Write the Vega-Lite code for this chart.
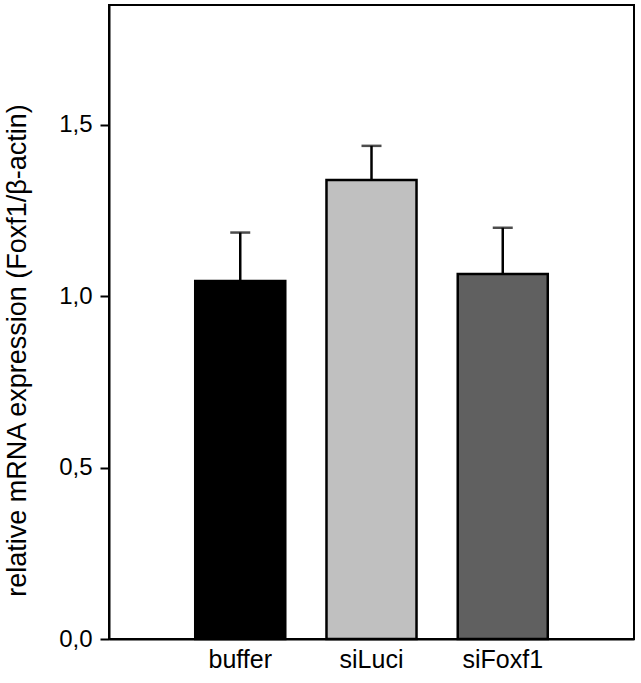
{
  "$schema": "https://vega.github.io/schema/vega-lite/v6.json",
  "width": 525,
  "height": 634,
  "autosize": {"type": "none"},
  "padding": {"left": 109, "top": 5, "right": 7, "bottom": 44},
  "background": "white",
  "config": {
    "view": {"stroke": "black", "strokeWidth": 2},
    "font": "Liberation Sans"
  },
  "data": {
    "values": [
      {"group": "buffer", "mean": 1.045, "upper": 1.186, "fill": "#000000"},
      {"group": "siLuci", "mean": 1.339, "upper": 1.439, "fill": "#c0c0c0"},
      {"group": "siFoxf1", "mean": 1.065, "upper": 1.2, "fill": "#606060"}
    ]
  },
  "encoding": {
    "x": {
      "field": "group",
      "type": "nominal",
      "sort": ["buffer", "siLuci", "siFoxf1"],
      "scale": {"paddingInner": 0.314, "paddingOuter": 0.657},
      "axis": {
        "title": null,
        "labelAngle": 0,
        "ticks": false,
        "labelFontSize": 25,
        "labelColor": "black",
        "labelPadding": 8,
        "domainColor": "black",
        "domainWidth": 2,
        "labelFont": "Liberation Sans"
      }
    }
  },
  "layer": [
    {
      "mark": {"type": "rule", "color": "black", "strokeWidth": 2.5},
      "encoding": {
        "y": {"field": "mean", "type": "quantitative"},
        "y2": {"field": "upper"}
      }
    },
    {
      "mark": {"type": "tick", "color": "black", "size": 20, "thickness": 2.5, "orient": "horizontal"},
      "encoding": {
        "y": {"field": "upper", "type": "quantitative"}
      }
    },
    {
      "mark": {"type": "bar", "stroke": "black", "strokeWidth": 2.5},
      "encoding": {
        "y": {
          "field": "mean",
          "type": "quantitative",
          "scale": {"domain": [0, 1.85], "nice": false, "zero": true},
          "axis": {
            "title": "relative mRNA expression (Foxf1/β-actin)",
            "titleFontSize": 27,
            "titleFontWeight": "normal",
            "titleColor": "black",
            "titleFont": "Liberation Sans",
            "titleAngle": -90,
            "titleAlign": "center",
            "titleBaseline": "middle",
            "titleX": -92,
            "titleY": 345,
            "values": [0, 0.5, 1, 1.5],
            "labelExpr": "replace(format(datum.value, '.1f'), '.', ',')",
            "labelFontSize": 24,
            "labelColor": "black",
            "labelFont": "Liberation Sans",
            "labelPadding": 8,
            "tickSize": 9,
            "tickWidth": 2,
            "tickColor": "black",
            "domainColor": "black",
            "domainWidth": 2,
            "grid": false
          }
        },
        "fill": {"field": "fill", "type": "nominal", "scale": null}
      }
    }
  ]
}
